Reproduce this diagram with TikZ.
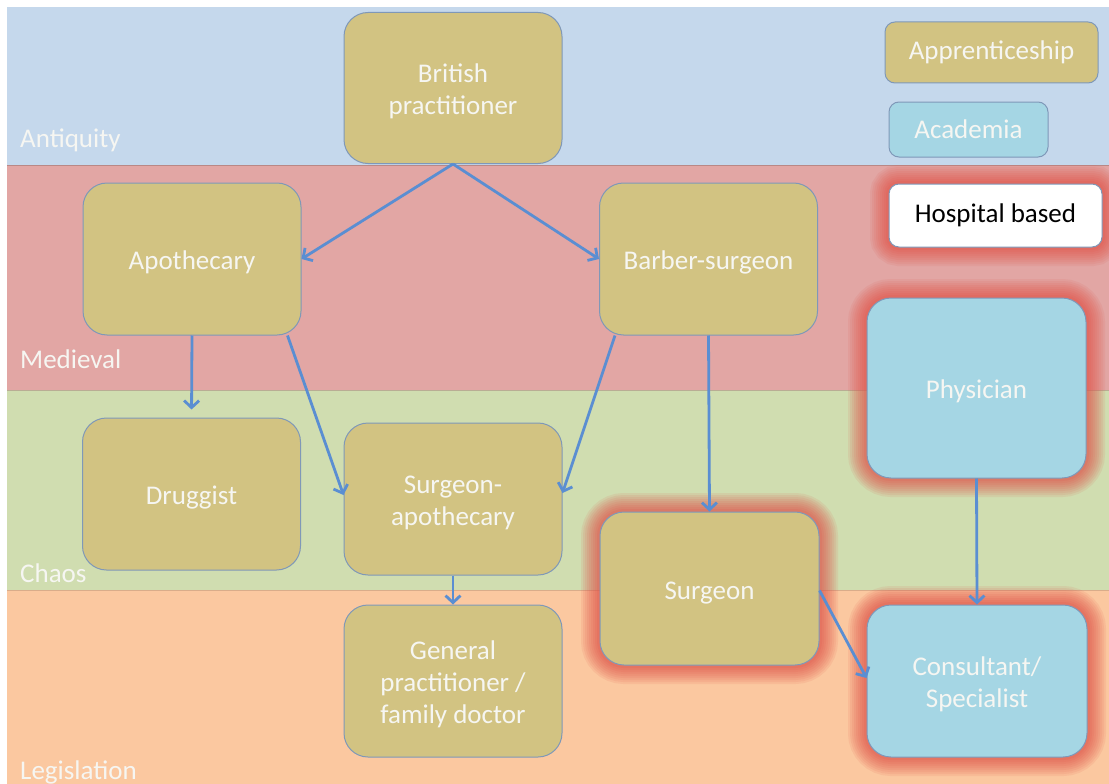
\documentclass[tikz,border=0pt]{standalone}
\usepackage{fontspec}
\setmainfont{Carlito}
\usetikzlibrary{arrows.meta}

\definecolor{bandA}{HTML}{C5D8EC}
\definecolor{bandM}{HTML}{E2A6A4}
\definecolor{bandC}{HTML}{D0DDB0}
\definecolor{bandL}{HTML}{FBC8A0}
\definecolor{gold}{HTML}{D2C382}
\definecolor{cyanbox}{HTML}{A5D6E4}
\definecolor{edge}{HTML}{7F98B8}
\definecolor{arrowc}{HTML}{5A8ED2}
\definecolor{glowc}{HTML}{E0564C}
\definecolor{labelc}{HTML}{F6F6F2}

% centred stack of lines, set a little below the middle of its box
\newcommand{\lbl}[1]{\raisebox{0pt}[\dimexpr\height+9pt\relax][\depth]{%
  \begin{tabular}{@{}c@{}}#1\end{tabular}}}

\tikzset{
  txt/.style={font=\fontsize{27}{32}\selectfont},
  box/.style={draw=edge, line width=1pt, rounded corners=24pt,
    minimum width=218pt, minimum height=151pt, inner sep=0pt,
    text=labelc, txt},
  apprent/.style={box, fill=gold},
  acad/.style={box, fill=cyanbox},
  keybox/.style={draw=edge, line width=1pt, rounded corners=10pt,
    inner sep=0pt, text=labelc, txt},
  % soft red halo marking hospital based roles
  hosp/.style={
    preaction={draw=glowc, line width=38pt, draw opacity=0.11},
    preaction={draw=glowc, line width=34pt, draw opacity=0.11},
    preaction={draw=glowc, line width=30pt, draw opacity=0.11},
    preaction={draw=glowc, line width=26pt, draw opacity=0.12},
    preaction={draw=glowc, line width=22pt, draw opacity=0.12},
    preaction={draw=glowc, line width=18pt, draw opacity=0.13},
    preaction={draw=glowc, line width=14pt, draw opacity=0.14},
    preaction={draw=glowc, line width=10pt, draw opacity=0.15},
    preaction={draw=glowc, line width=6pt, draw opacity=0.18}},
  flow/.style={draw=arrowc, line width=2.8pt,
    -{Straight Barb[length=7pt,width=15pt]}},
  era/.style={anchor=base west, inner sep=0pt, text=labelc, txt},
  sep/.style={line width=1pt, draw opacity=0.45}
}

\begin{document}
\begin{tikzpicture}[x=1pt,y=-1pt]
\useasboundingbox (0,0) rectangle (1109,784);
\fill[white] (0,0) rectangle (1109,784);

% eras
\fill[bandA] (7,7)   rectangle (1109,165);
\fill[bandM] (7,165) rectangle (1109,390);
\fill[bandC] (7,390) rectangle (1109,590);
\fill[bandL] (7,590) rectangle (1109,784);
\draw[sep, draw=bandM!60!black] (7,165) -- (1109,165);
\draw[sep, draw=bandM!70!black] (7,390) -- (1109,390);
\draw[sep, draw=bandL!70!black] (7,590) -- (1109,590);

\node[era] (antiq) at (20,147) {Antiquity};
\node[era] (medi)  at (20,368) {Medieval};
\node[era] (chaos) at (20,582) {Chaos};
\node[era] (legis) at (20,779) {Legislation};

% roles
\node[apprent] (brit)   at (453,88)    {\lbl{British\\practitioner}};
\node[apprent, minimum height=152pt] (apoth)  at (192,259)   {\lbl{Apothecary}};
\node[apprent, minimum height=152pt] (barber) at (708.5,259) {\lbl{Barber-surgeon}};
\node[apprent, minimum height=152pt] (drug)   at (191.5,494) {\lbl{Druggist}};
\node[apprent, minimum height=152pt] (sapoth) at (453,499)   {\lbl{Surgeon-\\apothecary}};
\node[apprent, minimum height=152pt] (gp)     at (453,681)   {\lbl{General\\practitioner /\\family doctor}};
\node[apprent, hosp, minimum width=219pt, minimum height=153pt] (surgeon) at (709.5,588.5) {\lbl{Surgeon}};
\node[acad, hosp, minimum width=219pt, minimum height=180pt] (phys) at (976.5,388) {\lbl{Physician}};
\node[acad, hosp, minimum width=220pt, minimum height=152pt] (cons) at (977,681) {\lbl{Consultant/\\Specialist}};

% key
\node[keybox, fill=gold, minimum width=213pt, minimum height=61pt] (kapp) at (991.5,52.5) {Apprenticeship};
\node[keybox, fill=cyanbox, minimum width=159pt, minimum height=55pt] (kacad) at (968.5,129.5) {Academia};
\node[keybox, hosp, fill=white, text=black, minimum width=213pt, minimum height=63pt] (khosp) at (995.5,215.5) {Hospital based};

% lineage
\draw[flow] (brit.south) -- (apoth.east);
\draw[flow] (brit.south) -- (barber.west);
\draw[flow, shorten >=8pt] (apoth.south) -- (drug.north);
\draw[flow] ([xshift=-14pt]apoth.south east) -- ([yshift=4pt]sapoth.west);
\draw[flow] ([xshift=16pt]barber.south west) -- ([yshift=6pt]sapoth.east);
\draw[flow] (barber.south) -- (surgeon.north);
\draw[flow] (sapoth.south) -- (gp.north);
\draw[flow] (phys.south) -- (cons.north);
\draw[flow] ([yshift=-2pt]surgeon.east) -- ([yshift=3pt]cons.west);
\end{tikzpicture}
\end{document}
